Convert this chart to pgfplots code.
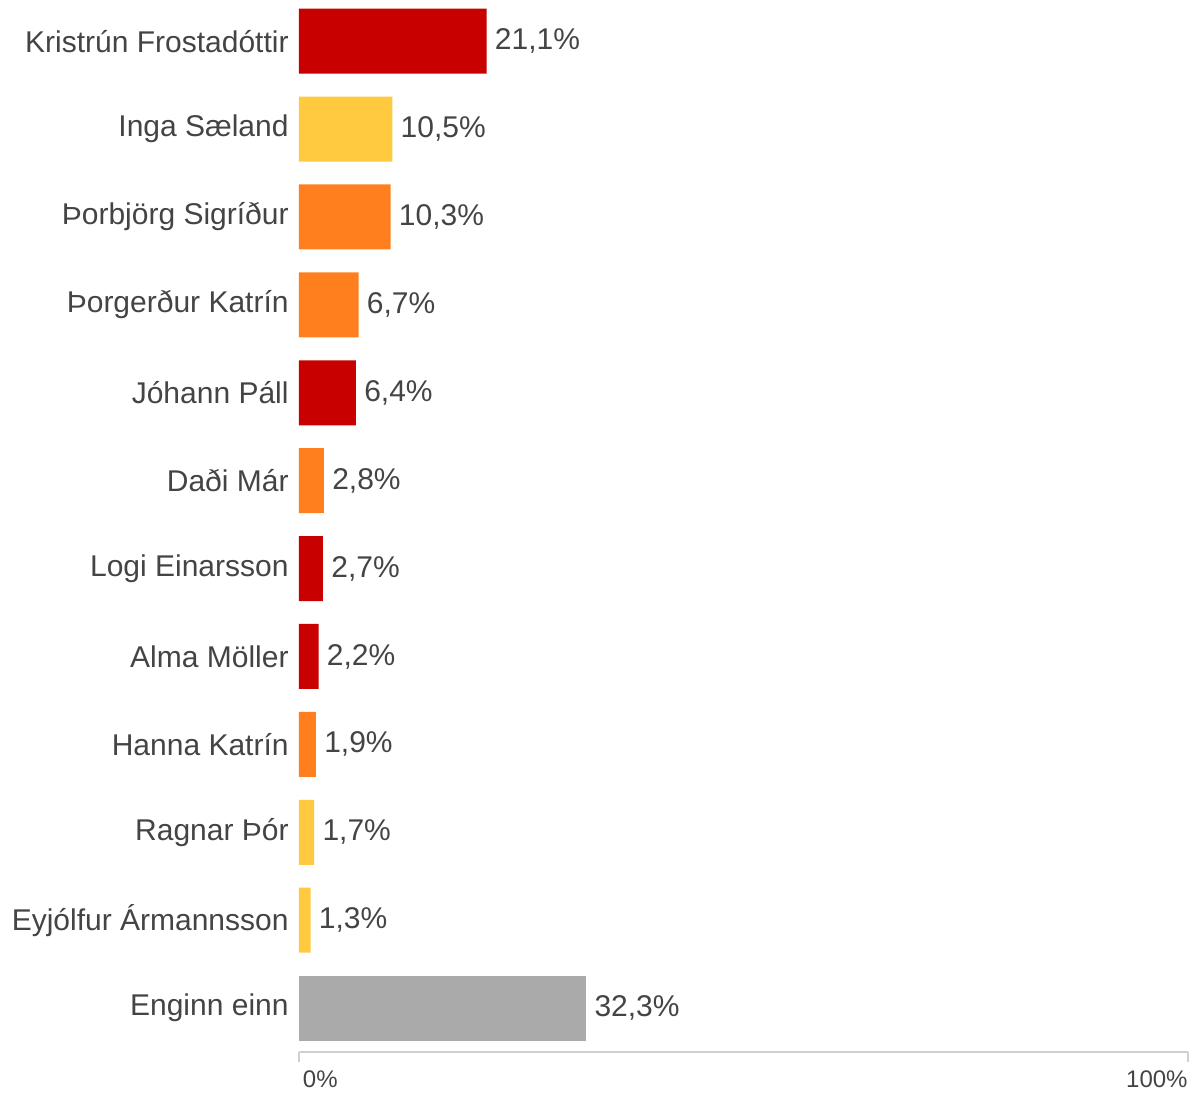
\documentclass[border=0pt]{standalone}
\usepackage{fontspec}
\setmainfont{Liberation Sans}
\usepackage{pgfplots}
\pgfplotsset{compat=1.18}
\definecolor{cred}{HTML}{C80000}
\definecolor{cyellow}{HTML}{FFC940}
\definecolor{corange}{HTML}{FF7F1E}
\definecolor{cgrey}{HTML}{AAAAAA}
\definecolor{ctext}{HTML}{444444}
\definecolor{caxis}{HTML}{D0D0D0}

\begin{document}
\begin{tikzpicture}
\useasboundingbox (-149.5pt,-547pt) rectangle (446pt,0pt);
\begin{axis}[
    at={(0pt,-526pt)}, anchor=south west,
    scale only axis,
    width=444.5pt, height=525.2pt,
    xbar, bar width=32.5pt, bar shift=0pt,
    xmin=0, xmax=100,
    ymin=-0.45, ymax=11.5,
    y dir=reverse,
    axis x line*=bottom, axis y line*=left,
    x axis line style={draw=caxis, line width=0.6pt},
    y axis line style={draw=none},
    ytick={0,...,11},
    yticklabels={Kristrún Frostadóttir, Inga Sæland, Þorbjörg Sigríður, Þorgerður Katrín, Jóhann Páll, Daði Már, Logi Einarsson, Alma Möller, Hanna Katrín, Ragnar Þór, Eyjólfur Ármannsson, Enginn einn},
    yticklabel style={font=\fontsize{15}{17}\selectfont, text=ctext, inner sep=0pt, xshift=0pt},
    ytick style={draw=none},
    xtick={0,100}, xticklabels={},
    tick align=outside,
    xtick style={draw=caxis, line width=0.6pt},
    major tick length=5pt,
    /pgf/number format/assume math mode=true,
    nodes near coords={\pgfmathprintnumber[fixed,fixed zerofill,precision=1,use comma,assume math mode=true]{\pgfplotspointmeta}\%},
    nodes near coords style={font=\fontsize{15}{17}\selectfont, text=ctext, anchor=west, inner sep=0pt, xshift=4pt},
    clip=false,
]
\addplot[fill=cred, draw=none, point meta=x] coordinates {(21.1,0) (6.4,4) (2.7,6) (2.2,7)};
\addplot[fill=cyellow, draw=none, point meta=x] coordinates {(10.5,1) (1.7,9) (1.3,10)};
\addplot[fill=corange, draw=none, point meta=x] coordinates {(10.3,2) (6.7,3) (2.8,5) (1.9,8)};
\addplot[fill=cgrey, draw=none, point meta=x] coordinates {(32.3,11)};
\node[anchor=north west, font=\fontsize{12}{14}\selectfont, text=ctext, inner sep=0pt] at (axis cs:0.4,11.5) [yshift=-9pt] {0\%};
\node[anchor=north east, font=\fontsize{12}{14}\selectfont, text=ctext, inner sep=0pt] at (axis cs:100,11.5) [yshift=-9pt] {100\%};
\end{axis}
\end{tikzpicture}
\end{document}
